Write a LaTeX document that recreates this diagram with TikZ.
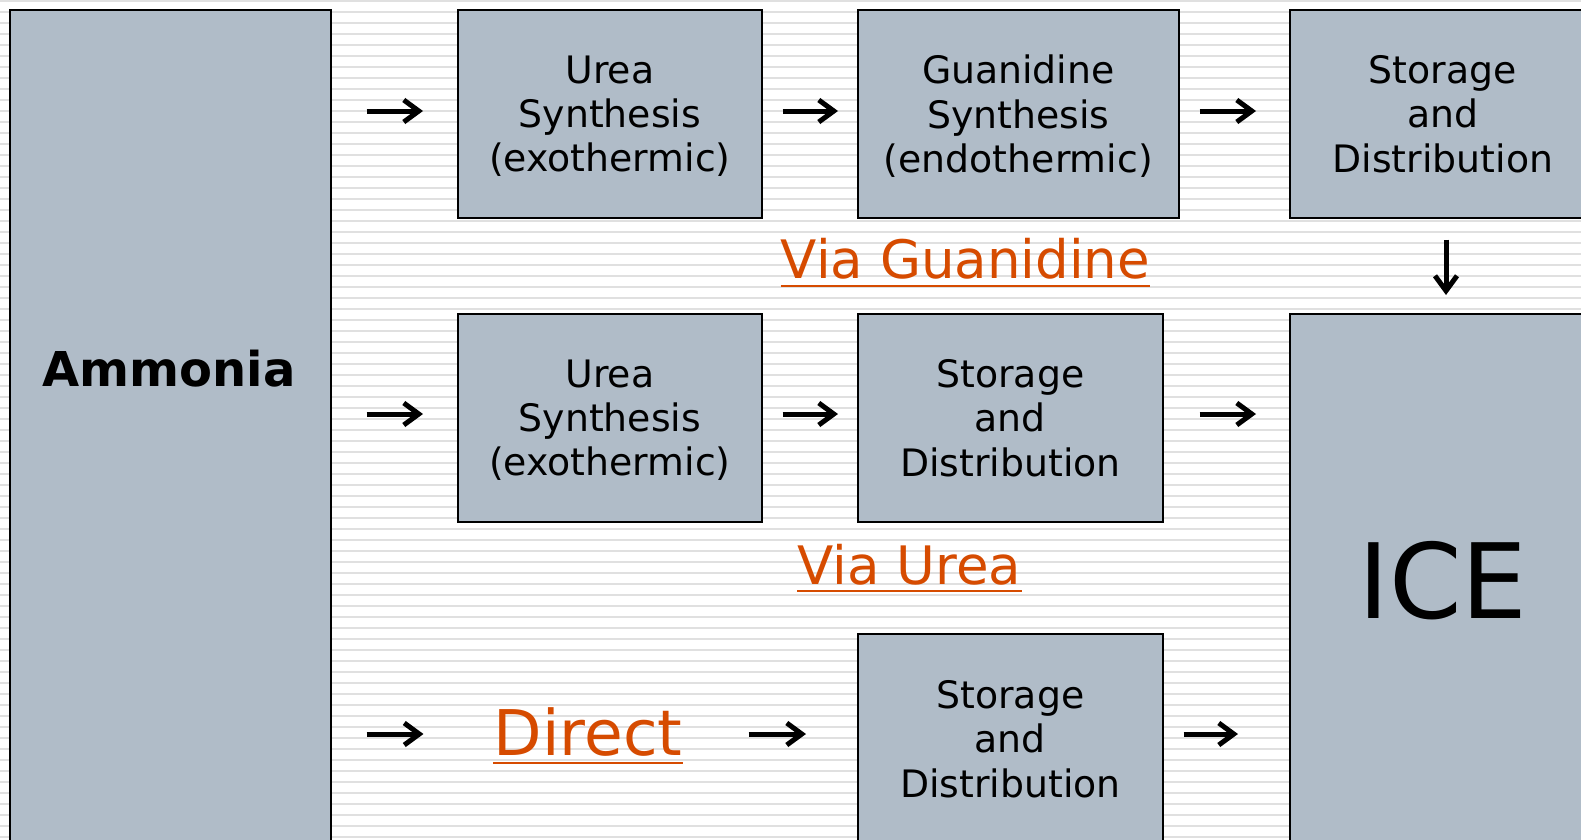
\documentclass[tikz,border=0pt]{standalone}
\usepackage{fontspec}
\setmainfont{DejaVu Sans}
\usetikzlibrary{arrows.meta}
\definecolor{boxfill}{RGB}{176,188,200}
\definecolor{linkorange}{RGB}{214,75,0}
\definecolor{stripe}{RGB}{224,224,224}
\tikzset{
  box/.style={draw=black, fill=boxfill, line width=1.6pt, inner sep=0pt, align=center, anchor=north west,
    font=\fontsize{37.8}{44.3}\selectfont},
  arr/.style={line width=5pt, -{Straight Barb[length=15pt,width=22pt]}},
  link/.style={text=linkorange, inner sep=0pt, anchor=base},
  uline/.style={draw=linkorange, line width=2.7pt},
  stripeline/.style={draw=stripe, line width=2pt}
}
\begin{document}
\begin{tikzpicture}[x=1pt,y=-1pt]
\clip (0,0) rectangle (1581,839);
\useasboundingbox (0,0) rectangle (1581,839);
\fill[white] (0,0) rectangle (1581,839);
\foreach \i in {0,...,76} \draw[stripeline] (0,{1+11*\i}) -- (1581,{1+11*\i});

% boxes
\node[box, minimum width=321pt, minimum height=880pt] (amm) at (9,9) {};
\node[inner sep=0pt, anchor=base, font=\fontsize{48}{56}\selectfont\bfseries] (ammlabel) at (169,386) {Ammonia};

\node[box, minimum width=304pt, minimum height=208pt, text depth=-6pt] (u1) at (457,9) {Urea\\Synthesis\\(exothermic)};
\node[box, minimum width=321pt, minimum height=208pt, text depth=-6pt] (g1) at (857,9) {Guanidine\\Synthesis\\(endothermic)};
\node[box, minimum width=306pt, minimum height=208pt, text depth=-6pt] (s1) at (1289,9) {Storage\\and\\Distribution};

\node[box, minimum width=304pt, minimum height=208pt, text depth=-6pt] (u2) at (457,313) {Urea\\Synthesis\\(exothermic)};
\node[box, minimum width=305pt, minimum height=208pt, text depth=-6pt] (s2) at (857,313) {Storage\\and\\Distribution};
\node[box, minimum width=306pt, minimum height=534pt, font=\fontsize{104}{116}\selectfont] (ice) at (1289,313) {ICE};

\node[box, minimum width=305pt, minimum height=210pt, text depth=-6pt] (s3) at (857,633) {Storage\\and\\Distribution};

% links
\node[link, font=\fontsize{53}{60}\selectfont] (vg) at (965.5,278) {Via Guanidine};
\draw[uline] ([yshift=-8pt]vg.base west) -- ([yshift=-8pt]vg.base east);
\node[link, font=\fontsize{53}{60}\selectfont] (vu) at (909.5,584) {Via Urea};
\draw[uline] ([yshift=-7pt]vu.base west) -- ([yshift=-7pt]vu.base east);
\node[link, font=\fontsize{63}{72}\selectfont] (dir) at (588,755) {Direct};
\draw[uline] ([yshift=-8pt]dir.base west) -- ([yshift=-8pt]dir.base east);

% arrows row 1
\draw[arr, shorten <=35pt, shorten >=34pt] (amm.east |- 0,111) -- (u1.west |- 0,111);
\draw[arr, shorten <=20pt, shorten >=19pt] (u1.east |- 0,111) -- (g1.west |- 0,111);
\draw[arr, shorten <=20pt, shorten >=33pt] (g1.east |- 0,111) -- (s1.west |- 0,111);
\draw[arr, shorten <=21pt, shorten >=18pt] (s1.south -| 1446,0) -- (ice.north -| 1446,0);
% arrows row 2
\draw[arr, shorten <=35pt, shorten >=34pt] (amm.east |- 0,414) -- (u2.west |- 0,414);
\draw[arr, shorten <=20pt, shorten >=19pt] (u2.east |- 0,414) -- (s2.west |- 0,414);
\draw[arr, shorten <=36pt, shorten >=33pt] (s2.east |- 0,414) -- (ice.west |- 0,414);
% arrows row 3
\draw[arr, shorten <=35pt, shorten >=70pt] (amm.east |- 0,734) -- (dir.west |- 0,734);
\draw[arr, shorten <=66pt, shorten >=51pt] (dir.east |- 0,734) -- (s3.west |- 0,734);
\draw[arr, shorten <=20pt, shorten >=51pt] (s3.east |- 0,734) -- (ice.west |- 0,734);
\end{tikzpicture}
\end{document}
